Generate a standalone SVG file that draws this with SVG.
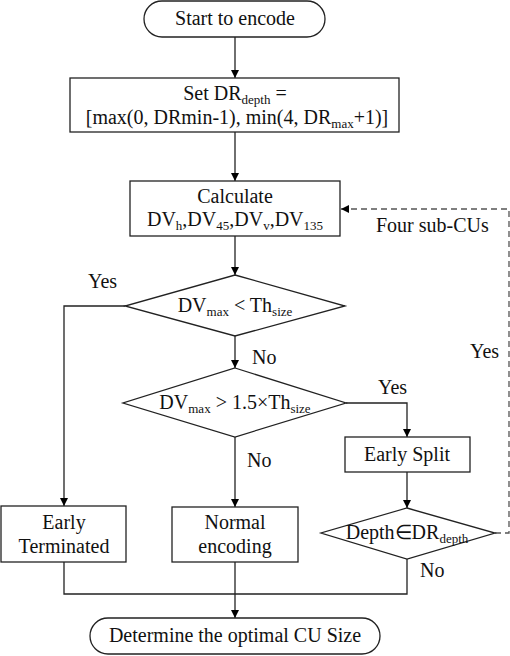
<svg xmlns="http://www.w3.org/2000/svg" width="510" height="656" viewBox="0 0 510 656" font-family="'Liberation Serif', 'Times New Roman', serif">
<defs>
<marker id="ah" viewBox="0 0 10 10" refX="10" refY="5" markerWidth="8" markerHeight="8" markerUnits="userSpaceOnUse" orient="auto">
<path d="M0,0 L10,5 L0,10 z" fill="#000"/>
</marker>
<style>
.n{fill:#fff;stroke:#222;stroke-width:1.3}
.t{font-family:'Liberation Serif','Times New Roman',serif;font-size:20px;fill:#111;text-anchor:middle}
.l{font-family:'Liberation Serif','Times New Roman',serif;font-size:20px;fill:#111}
.s{font-size:13px}
.c{fill:none;stroke:#222;stroke-width:1.3}
.d{fill:none;stroke:#555;stroke-width:1.3;stroke-dasharray:6,4}
</style>
</defs>
<rect width="510" height="656" fill="#fff"/>
<g id="connectors">
<path class="c" d="M235,37 V78" marker-end="url(#ah)"/>
<path class="c" d="M235,132 V181" marker-end="url(#ah)"/>
<path class="c" d="M235,236 V275" marker-end="url(#ah)"/>
<path class="c" d="M125,306 H64 V506" marker-end="url(#ah)"/>
<path class="c" d="M235,336 V368" marker-end="url(#ah)"/>
<path class="c" d="M346,403 H407 V437" marker-end="url(#ah)"/>
<path class="c" d="M235,437 V507" marker-end="url(#ah)"/>
<path class="c" d="M407,472 V508" marker-end="url(#ah)"/>
<path class="c" d="M407,559 V594 H64 V562"/>
<path class="c" d="M235,562 V618" marker-end="url(#ah)"/>
<path class="d" d="M495,533 H509 V209 H341" marker-end="url(#ah)"/>
<text class="l" x="88" y="288">Yes</text>
<text class="l" x="252" y="364">No</text>
<text class="l" x="378" y="394">Yes</text>
<text class="l" x="247" y="467">No</text>
<text class="l" x="420" y="577">No</text>
<text class="l" x="376" y="232">Four sub-CUs</text>
<text class="l" x="470" y="358">Yes</text>
</g>
<g id="start">
<rect class="n" x="144" y="1" width="181" height="36" rx="18"/>
<text class="t" x="235" y="25">Start to encode</text>
</g>
<g id="setdr">
<rect class="n" x="70" y="78" width="329" height="54"/>
<text class="t" x="235" y="100">Set DR<tspan class="s" dy="4">depth</tspan><tspan dy="-4"> =</tspan></text>
<text class="t" x="237" y="124">[max(0, DRmin-1), min(4, DR<tspan class="s" dy="4">max</tspan><tspan dy="-4">+1)]</tspan></text>
</g>
<g id="calc">
<rect class="n" x="130" y="181" width="210" height="55"/>
<text class="t" x="235" y="203">Calculate</text>
<text class="t" x="235" y="226">DV<tspan class="s" dy="4">h</tspan><tspan dy="-4">,DV</tspan><tspan class="s" dy="4">45</tspan><tspan dy="-4">,DV</tspan><tspan class="s" dy="4">v</tspan><tspan dy="-4">,DV</tspan><tspan class="s" dy="4">135</tspan></text>
</g>
<g id="dec1">
<polygon class="n" points="235,275 345,306 235,336 125,306"/>
<text class="t" x="235" y="312">DV<tspan class="s" dy="4">max</tspan><tspan dy="-4"> &lt; Th</tspan><tspan class="s" dy="4">size</tspan></text>
</g>
<g id="dec2">
<polygon class="n" points="235,368 346,403 235,437 123,403"/>
<text class="t" x="235" y="409">DV<tspan class="s" dy="4">max</tspan><tspan dy="-4"> &gt; 1.5×Th</tspan><tspan class="s" dy="4">size</tspan></text>
</g>
<g id="split">
<rect class="n" x="345" y="437" width="125" height="35"/>
<text class="t" x="407" y="461">Early Split</text>
</g>
<g id="dec3">
<polygon class="n" points="407,508 495,533 407,559 321,533"/>
<text class="t" x="407" y="539">Depth∈DR<tspan class="s" dy="4">depth</tspan></text>
</g>
<g id="term">
<rect class="n" x="1" y="506" width="125" height="56"/>
<text class="t" x="64" y="529">Early</text>
<text class="t" x="64" y="553">Terminated</text>
</g>
<g id="normal">
<rect class="n" x="172" y="507" width="126" height="55"/>
<text class="t" x="235" y="529">Normal</text>
<text class="t" x="235" y="553">encoding</text>
</g>
<g id="end">
<rect class="n" x="90" y="618" width="290" height="36" rx="18"/>
<text class="t" x="235" y="642">Determine the optimal CU Size</text>
</g>
</svg>
